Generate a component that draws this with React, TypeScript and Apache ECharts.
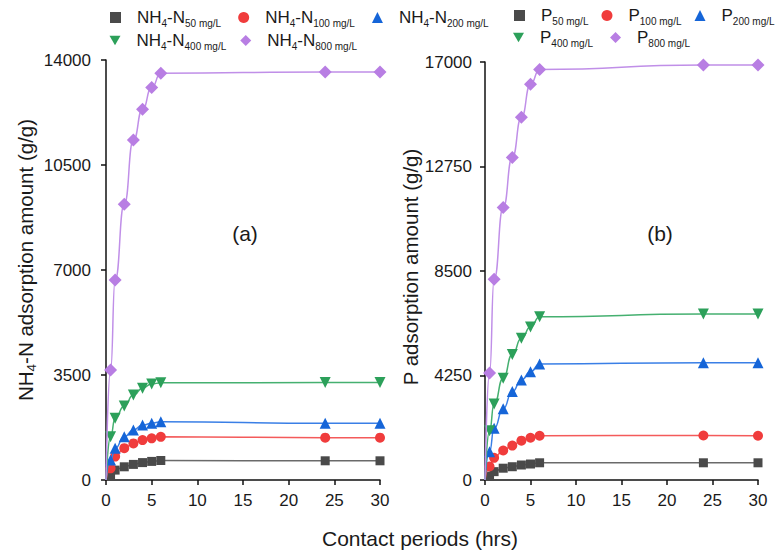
import React, { useEffect, useRef } from "react";
import * as echarts from "echarts";

// ---- data ----
const times = [0, 0.5, 1, 2, 3, 4, 5, 6, 24, 30];
const xTicks = [0, 5, 10, 15, 20, 25, 30];
const yTicksNH = [0, 3500, 7000, 10500, 14000];
const yTicksP = [0, 4250, 8500, 12750, 17000];
const concentrations = ["50 mg/L", "100 mg/L", "200 mg/L", "400 mg/L", "800 mg/L"];

const nh50 = [0, 150, 330, 440, 520, 580, 620, 650, 640, 640];
const nh100 = [0, 390, 780, 1060, 1220, 1330, 1390, 1440, 1410, 1410];
const nh200 = [0, 670, 1060, 1440, 1670, 1830, 1890, 1940, 1890, 1890];
const nh400 = [0, 1440, 2060, 2470, 2830, 3060, 3200, 3240, 3250, 3250];
const nh800 = [0, 3670, 6670, 9190, 11330, 12360, 13080, 13560, 13600, 13600];

const p50 = [0, 160, 340, 480, 540, 610, 650, 700, 700, 700];
const p100 = [0, 550, 900, 1200, 1400, 1600, 1720, 1800, 1810, 1800];
const p200 = [0, 1150, 2100, 2900, 3600, 4070, 4400, 4720, 4770, 4770];
const p400 = [0, 2000, 3090, 4140, 5100, 5760, 6220, 6640, 6750, 6750];
const p800 = [0, 4350, 8160, 11080, 13120, 14750, 16100, 16700, 16880, 16880];

// ---- styles ----
const FONT = "'Liberation Sans', Arial, Helvetica, sans-serif";
const TEXT = "#1a1a1a";
const COLORS = ["#4a4a4a", "#f03c3c", "#1565d8", "#2ca05a", "#b87ee3"];
const LINE_COLORS = ["#6a6a6a", "#f45a5a", "#3a7fe6", "#45b070", "#c08fe8"];
const SYMBOLS = ["rect", "circle", "triangle", "path://M0,0L12,0L6,10.4Z", "diamond"];
const SIZES = [9, 10, 11, 11, 13];

const nhNames = concentrations.map((c) => `NH4-N ${c}`);
const pNames = concentrations.map((c) => `P ${c}`);
const richNames: Record<string, string> = {};
concentrations.forEach((c, i) => {
  richNames[nhNames[i]] = `{m|NH}{s|4}{m|-N}{s|${c}}`;
  richNames[pNames[i]] = `{m|P}{s|${c}}`;
});

function buildSeries(names: string[], sets: number[][], idx: number) {
  return sets.map((vals, i) => ({
    name: names[i],
    type: "line",
    xAxisIndex: idx,
    yAxisIndex: idx,
    data: times.map((t, j) =>
      j === 0 ? { value: [t, vals[j]], symbol: "none" } : [t, vals[j]]
    ),
    symbol: SYMBOLS[i],
    symbolSize: SIZES[i],
    showAllSymbol: true,
    smooth: 0.55,
    smoothMonotone: "x",
    itemStyle: { color: COLORS[i], borderWidth: 0 },
    lineStyle: { color: LINE_COLORS[i], width: 1.5 },
    z: 2 + i,
    emphasis: { disabled: true },
  }));
}

const legendText = {
  fontFamily: FONT,
  fontSize: 17,
  color: TEXT,
  padding: [0, 0, 0, 11],
  rich: {
    m: { fontFamily: FONT, fontSize: 17, lineHeight: 22, color: TEXT },
    s: { fontFamily: FONT, fontSize: 10, lineHeight: 12, verticalAlign: "bottom", color: TEXT },
  },
};

function legendRow(names: string[], offset: number, left: number, top: number, gap: number) {
  return {
    orient: "horizontal",
    left,
    top,
    width: 400,
    padding: 0,
    itemGap: gap,
    itemWidth: 11,
    itemHeight: 11,
    selectedMode: false,
    itemStyle: { borderWidth: 0 },
    textStyle: legendText,
    formatter: (name: string) => richNames[name],
    data: names.map((n, i) => ({ name: n, icon: SYMBOLS[i + offset] })),
  };
}

function xAxis(gridIndex: number) {
  return {
    type: "value",
    gridIndex,
    min: xTicks[0],
    max: xTicks[xTicks.length - 1],
    interval: xTicks[1] - xTicks[0],
    axisLine: { show: true, lineStyle: { color: "#111", width: 1.5 } },
    axisTick: { show: true, inside: false, length: 5, lineStyle: { color: "#111", width: 1.5 } },
    axisLabel: { fontFamily: FONT, fontSize: 17, color: TEXT, margin: 12, formatter: (v: number) => String(v) },
    splitLine: { show: false },
  };
}

function yAxis(gridIndex: number, ticks: number[], name: string, gap: number, pad: number, margin: number) {
  return {
    type: "value",
    gridIndex,
    min: ticks[0],
    max: ticks[ticks.length - 1],
    interval: ticks[1] - ticks[0],
    name,
    nameLocation: "middle",
    nameGap: gap,
    nameTextStyle: {
      fontFamily: FONT,
      fontSize: 20.5,
      color: TEXT,
      padding: [0, 0, 0, pad],
      rich: {
        m: { fontFamily: FONT, fontSize: 20.5, lineHeight: 26, color: TEXT },
        s: { fontFamily: FONT, fontSize: 13.5, lineHeight: 14, verticalAlign: "bottom", color: TEXT },
      },
    },
    axisLine: { show: true, lineStyle: { color: "#111", width: 1.5 } },
    axisTick: { show: true, inside: false, length: 5, lineStyle: { color: "#111", width: 1.5 } },
    axisLabel: { fontFamily: FONT, fontSize: 17, color: TEXT, margin, formatter: (v: number) => String(v) },
    splitLine: { show: false },
  };
}

export default function App() {
  const ref = useRef<HTMLDivElement>(null);
  useEffect(() => {
    if (!ref.current) return;
    const chart = echarts.init(ref.current, undefined, { renderer: "svg" });
    chart.setOption({
      animation: false,
      backgroundColor: "#ffffff",
      grid: [
        { left: 106, top: 60, width: 274, height: 420 },
        { left: 485, top: 62, width: 273, height: 418 },
      ],
      xAxis: [xAxis(0), xAxis(1)],
      yAxis: [
        yAxis(0, yTicksNH, "{m|NH}{s|4}{m|-N adsorption amount (g/g)}", 68, 20, 15),
        yAxis(1, yTicksP, "{m|P adsorption amount (g/g)}", 60, 8, 13),
      ],
      legend: [
        legendRow(nhNames.slice(0, 3), 0, 110, 9, 17),
        legendRow(nhNames.slice(3), 3, 109.5, 32, 14),
        legendRow(pNames.slice(0, 3), 0, 514, 7, 13),
        legendRow(pNames.slice(3), 3, 513, 29, 17),
      ],
      graphic: [
        {
          type: "text",
          x: 245,
          y: 233,
          style: { text: "(a)", fontFamily: FONT, fontSize: 21, fill: TEXT, align: "center", verticalAlign: "middle" },
        },
        {
          type: "text",
          x: 660,
          y: 233,
          style: { text: "(b)", fontFamily: FONT, fontSize: 21, fill: TEXT, align: "center", verticalAlign: "middle" },
        },
        {
          type: "text",
          x: 420,
          y: 538,
          style: {
            text: "Contact periods (hrs)",
            fontFamily: FONT,
            fontSize: 21,
            fill: TEXT,
            align: "center",
            verticalAlign: "middle",
          },
        },
      ],
      series: [
        ...buildSeries(nhNames, [nh50, nh100, nh200, nh400, nh800], 0),
        ...buildSeries(pNames, [p50, p100, p200, p400, p800], 1),
      ],
    });
    return () => chart.dispose();
  }, []);
  return (
    <div
      ref={ref}
      style={{ position: "absolute", left: 0, top: 0, width: 778, height: 550 }}
    />
  );
}
